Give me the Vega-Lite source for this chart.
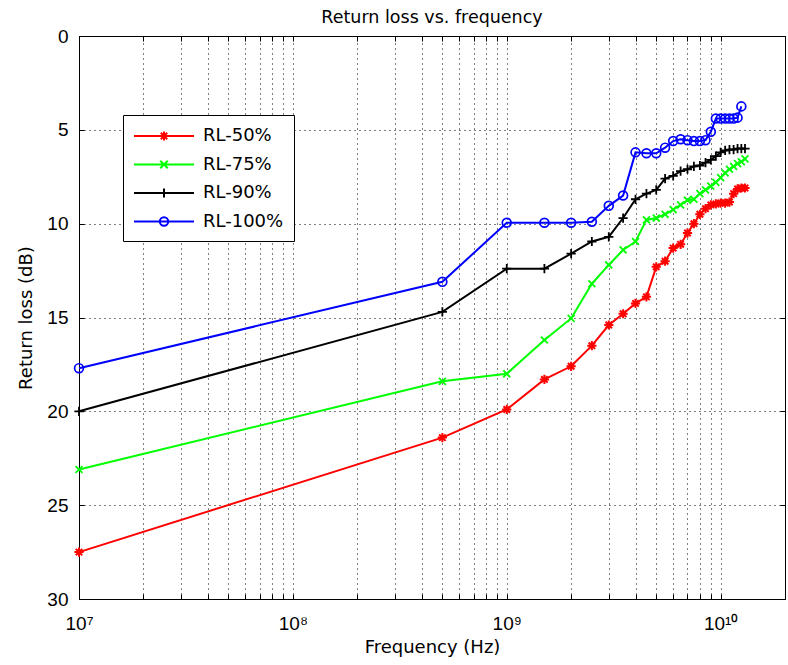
{
  "$schema": "https://vega.github.io/schema/vega-lite/v6.json",
  "width": 706,
  "height": 563,
  "autosize": {"type": "none"},
  "padding": {"left": 79, "top": 36, "right": 3, "bottom": 66},
  "background": "white",
  "title": {"text": "Return loss vs. frequency", "font": "DejaVu Sans", "fontSize": 17.5, "fontWeight": "normal", "color": "black", "anchor": "middle", "offset": 1},
  "config": {
    "view": {"stroke": "black", "strokeWidth": 1},
    "axis": {
      "domainColor": "black", "tickColor": "black", "tickSize": -5, "labelColor": "black",
      "labelFont": "Liberation Sans", "labelFontSize": 19, "titleFont": "DejaVu Sans", "titleFontSize": 18,
      "titleFontWeight": "normal", "titleColor": "black", "gridColor": "black", "gridDash": [1, 4], "gridOpacity": 1
    }
  },
  "data": {"values": [
    {"series": "RL-50%", "f": 10000000, "rl": 27.5},
    {"series": "RL-50%", "f": 500000000, "rl": 21.4},
    {"series": "RL-50%", "f": 1000000000, "rl": 19.9},
    {"series": "RL-50%", "f": 1500000000, "rl": 18.3},
    {"series": "RL-50%", "f": 2000000000, "rl": 17.6},
    {"series": "RL-50%", "f": 2500000000, "rl": 16.5},
    {"series": "RL-50%", "f": 3000000000, "rl": 15.4},
    {"series": "RL-50%", "f": 3500000000, "rl": 14.8},
    {"series": "RL-50%", "f": 4000000000, "rl": 14.25},
    {"series": "RL-50%", "f": 4500000000, "rl": 13.9},
    {"series": "RL-50%", "f": 5000000000, "rl": 12.3},
    {"series": "RL-50%", "f": 5500000000, "rl": 12.0},
    {"series": "RL-50%", "f": 6000000000, "rl": 11.3},
    {"series": "RL-50%", "f": 6500000000, "rl": 11.1},
    {"series": "RL-50%", "f": 7000000000, "rl": 10.5},
    {"series": "RL-50%", "f": 7500000000, "rl": 10.0},
    {"series": "RL-50%", "f": 8000000000, "rl": 9.5},
    {"series": "RL-50%", "f": 8500000000, "rl": 9.2},
    {"series": "RL-50%", "f": 9000000000, "rl": 9.0},
    {"series": "RL-50%", "f": 9500000000, "rl": 8.95},
    {"series": "RL-50%", "f": 10000000000, "rl": 8.9},
    {"series": "RL-50%", "f": 10500000000, "rl": 8.9},
    {"series": "RL-50%", "f": 11000000000, "rl": 8.85},
    {"series": "RL-50%", "f": 11500000000, "rl": 8.4},
    {"series": "RL-50%", "f": 12000000000, "rl": 8.15},
    {"series": "RL-50%", "f": 12500000000, "rl": 8.1},
    {"series": "RL-50%", "f": 13000000000, "rl": 8.1},
    {"series": "RL-75%", "f": 10000000, "rl": 23.1},
    {"series": "RL-75%", "f": 500000000, "rl": 18.4},
    {"series": "RL-75%", "f": 1000000000, "rl": 18.0},
    {"series": "RL-75%", "f": 1500000000, "rl": 16.2},
    {"series": "RL-75%", "f": 2000000000, "rl": 15.05},
    {"series": "RL-75%", "f": 2500000000, "rl": 13.2},
    {"series": "RL-75%", "f": 3000000000, "rl": 12.2},
    {"series": "RL-75%", "f": 3500000000, "rl": 11.4},
    {"series": "RL-75%", "f": 4000000000, "rl": 10.95},
    {"series": "RL-75%", "f": 4500000000, "rl": 9.8},
    {"series": "RL-75%", "f": 5000000000, "rl": 9.7},
    {"series": "RL-75%", "f": 5500000000, "rl": 9.5},
    {"series": "RL-75%", "f": 6000000000, "rl": 9.25},
    {"series": "RL-75%", "f": 6500000000, "rl": 9.0},
    {"series": "RL-75%", "f": 7000000000, "rl": 8.75},
    {"series": "RL-75%", "f": 7500000000, "rl": 8.7},
    {"series": "RL-75%", "f": 8000000000, "rl": 8.4},
    {"series": "RL-75%", "f": 8500000000, "rl": 8.2},
    {"series": "RL-75%", "f": 9000000000, "rl": 8.0},
    {"series": "RL-75%", "f": 9500000000, "rl": 7.8},
    {"series": "RL-75%", "f": 10000000000, "rl": 7.55},
    {"series": "RL-75%", "f": 10500000000, "rl": 7.3},
    {"series": "RL-75%", "f": 11000000000, "rl": 7.1},
    {"series": "RL-75%", "f": 11500000000, "rl": 6.95},
    {"series": "RL-75%", "f": 12000000000, "rl": 6.8},
    {"series": "RL-75%", "f": 12500000000, "rl": 6.7},
    {"series": "RL-75%", "f": 13000000000, "rl": 6.55},
    {"series": "RL-90%", "f": 10000000, "rl": 20.0},
    {"series": "RL-90%", "f": 500000000, "rl": 14.7},
    {"series": "RL-90%", "f": 1000000000, "rl": 12.4},
    {"series": "RL-90%", "f": 1500000000, "rl": 12.4},
    {"series": "RL-90%", "f": 2000000000, "rl": 11.6},
    {"series": "RL-90%", "f": 2500000000, "rl": 10.95},
    {"series": "RL-90%", "f": 3000000000, "rl": 10.7},
    {"series": "RL-90%", "f": 3500000000, "rl": 9.7},
    {"series": "RL-90%", "f": 4000000000, "rl": 8.7},
    {"series": "RL-90%", "f": 4500000000, "rl": 8.4},
    {"series": "RL-90%", "f": 5000000000, "rl": 8.2},
    {"series": "RL-90%", "f": 5500000000, "rl": 7.6},
    {"series": "RL-90%", "f": 6000000000, "rl": 7.45},
    {"series": "RL-90%", "f": 6500000000, "rl": 7.2},
    {"series": "RL-90%", "f": 7000000000, "rl": 7.1},
    {"series": "RL-90%", "f": 7500000000, "rl": 6.95},
    {"series": "RL-90%", "f": 8000000000, "rl": 6.9},
    {"series": "RL-90%", "f": 8500000000, "rl": 6.75},
    {"series": "RL-90%", "f": 9000000000, "rl": 6.6},
    {"series": "RL-90%", "f": 9500000000, "rl": 6.4},
    {"series": "RL-90%", "f": 10000000000, "rl": 6.2},
    {"series": "RL-90%", "f": 10500000000, "rl": 6.1},
    {"series": "RL-90%", "f": 11000000000, "rl": 6.05},
    {"series": "RL-90%", "f": 11500000000, "rl": 6.05},
    {"series": "RL-90%", "f": 12000000000, "rl": 6.0},
    {"series": "RL-90%", "f": 12500000000, "rl": 6.0},
    {"series": "RL-90%", "f": 13000000000, "rl": 6.0},
    {"series": "RL-100%", "f": 10000000, "rl": 17.7},
    {"series": "RL-100%", "f": 500000000, "rl": 13.1},
    {"series": "RL-100%", "f": 1000000000, "rl": 9.95},
    {"series": "RL-100%", "f": 1500000000, "rl": 9.95},
    {"series": "RL-100%", "f": 2000000000, "rl": 9.95},
    {"series": "RL-100%", "f": 2500000000, "rl": 9.9},
    {"series": "RL-100%", "f": 3000000000, "rl": 9.05},
    {"series": "RL-100%", "f": 3500000000, "rl": 8.5},
    {"series": "RL-100%", "f": 4000000000, "rl": 6.2},
    {"series": "RL-100%", "f": 4500000000, "rl": 6.25},
    {"series": "RL-100%", "f": 5000000000, "rl": 6.25},
    {"series": "RL-100%", "f": 5500000000, "rl": 5.95},
    {"series": "RL-100%", "f": 6000000000, "rl": 5.6},
    {"series": "RL-100%", "f": 6500000000, "rl": 5.5},
    {"series": "RL-100%", "f": 7000000000, "rl": 5.55},
    {"series": "RL-100%", "f": 7500000000, "rl": 5.6},
    {"series": "RL-100%", "f": 8000000000, "rl": 5.6},
    {"series": "RL-100%", "f": 8500000000, "rl": 5.55},
    {"series": "RL-100%", "f": 9000000000, "rl": 5.1},
    {"series": "RL-100%", "f": 9500000000, "rl": 4.4},
    {"series": "RL-100%", "f": 10000000000, "rl": 4.4},
    {"series": "RL-100%", "f": 10500000000, "rl": 4.4},
    {"series": "RL-100%", "f": 11000000000, "rl": 4.4},
    {"series": "RL-100%", "f": 11500000000, "rl": 4.4},
    {"series": "RL-100%", "f": 12000000000, "rl": 4.35},
    {"series": "RL-100%", "f": 12500000000, "rl": 3.75}
  ]},
  "layer": [
    {
      "mark": {"type": "line", "strokeWidth": 2},
      "encoding": {
        "x": {"field": "f", "type": "quantitative", "scale": {"type": "log", "domain": [10000000, 20000000000], "nice": false},
          "axis": {"orient": "bottom", "title": "Frequency (Hz)", "grid": true, "labelPadding": 20, "titlePadding": 5, "labelFlush": false, "labelOverlap": false,
            "values": [10000000,20000000,30000000,40000000,50000000,60000000,70000000,80000000,90000000,100000000,200000000,300000000,400000000,500000000,600000000,700000000,800000000,900000000,1000000000,2000000000,3000000000,4000000000,5000000000,6000000000,7000000000,8000000000,9000000000,10000000000],
            "labelExpr": "datum.value == 10000000 ? '10⁷' : datum.value == 100000000 ? '10⁸' : datum.value == 1000000000 ? '10⁹' : datum.value == 10000000000 ? '10¹⁰' : ''"}},
        "y": {"field": "rl", "type": "quantitative", "scale": {"domain": [0, 30], "reverse": true, "nice": false},
          "axis": {"orient": "left", "title": "Return loss (dB)", "grid": true, "values": [0, 5, 10, 15, 20, 25, 30], "labelPadding": 16, "titlePadding": 11, "labelFlush": false}},
        "color": {"field": "series", "type": "nominal", "scale": {"domain": ["RL-50%", "RL-75%", "RL-90%", "RL-100%"], "range": ["#ff0000", "#00ff00", "#000000", "#0000ff"]},
          "legend": {"title": null, "orient": "none", "legendX": 44, "legendY": 79, "strokeColor": "black", "fillColor": "white", "padding": 10, "cornerRadius": 0,
            "symbolSize": 400, "symbolStrokeWidth": 2, "labelOffset": 48, "rowPadding": 8.5, "labelFont": "DejaVu Sans", "labelFontSize": 18, "labelColor": "black",
            "encode": {"symbols": {"update": {"fill": {"value": "transparent"}, "shape": {"signal": "datum.value == 'RL-50%' ? 'M-1,0H5M1.55,0H2.45M2,-0.45V0.45M1.68,-0.32L2.32,0.32M1.68,0.32L2.32,-0.32' : datum.value == 'RL-75%' ? 'M-1,0H5M1.62,-0.38L2.38,0.38M1.62,0.38L2.38,-0.38' : datum.value == 'RL-90%' ? 'M-1,0H5M1.55,0H2.45M2,-0.45V0.45' : 'M-1,0H5M2.42,0A0.42,0.42 0 1,1 1.58,0A0.42,0.42 0 1,1 2.42,0'"}}}}}
        }
      }
    },
    {
      "transform": [{"filter": "datum.series == 'RL-50%'"}],
      "mark": {"type": "point", "filled": false, "strokeWidth": 2, "opacity": 1, "size": 85, "color": "#ff0000", "shape": "M-1,0H1M0,-1V1M-0.7,-0.7L0.7,0.7M-0.7,0.7L0.7,-0.7"},
      "encoding": {
        "x": {"field": "f", "type": "quantitative",
          "axis": {"orient": "top", "title": null, "labels": false, "grid": false, "domain": false,
            "values": [10000000,20000000,30000000,40000000,50000000,60000000,70000000,80000000,90000000,100000000,200000000,300000000,400000000,500000000,600000000,700000000,800000000,900000000,1000000000,2000000000,3000000000,4000000000,5000000000,6000000000,7000000000,8000000000,9000000000,10000000000]}},
        "y": {"field": "rl", "type": "quantitative",
          "axis": {"orient": "right", "title": null, "labels": false, "grid": false, "domain": false, "values": [0, 5, 10, 15, 20, 25, 30]}}
      }
    },
    {
      "transform": [{"filter": "datum.series == 'RL-75%'"}],
      "mark": {"type": "point", "filled": false, "strokeWidth": 1.8, "opacity": 1, "size": 85, "color": "#00ff00", "shape": "M-0.75,-0.75L0.75,0.75M-0.75,0.75L0.75,-0.75"},
      "encoding": {
        "x": {"field": "f", "type": "quantitative", "axis": null},
        "y": {"field": "rl", "type": "quantitative", "axis": null}
      }
    },
    {
      "transform": [{"filter": "datum.series == 'RL-90%'"}],
      "mark": {"type": "point", "filled": false, "strokeWidth": 1.8, "opacity": 1, "size": 85, "color": "#000000", "shape": "M-1,0H1M0,-1V1"},
      "encoding": {
        "x": {"field": "f", "type": "quantitative", "axis": null},
        "y": {"field": "rl", "type": "quantitative", "axis": null}
      }
    },
    {
      "transform": [{"filter": "datum.series == 'RL-100%'"}],
      "mark": {"type": "point", "filled": false, "strokeWidth": 1.7, "opacity": 1, "size": 78, "color": "#0000ff", "shape": "circle"},
      "encoding": {
        "x": {"field": "f", "type": "quantitative", "axis": null},
        "y": {"field": "rl", "type": "quantitative", "axis": null}
      }
    }
  ],
  "resolve": {"axis": {"x": "independent", "y": "independent"}}
}
